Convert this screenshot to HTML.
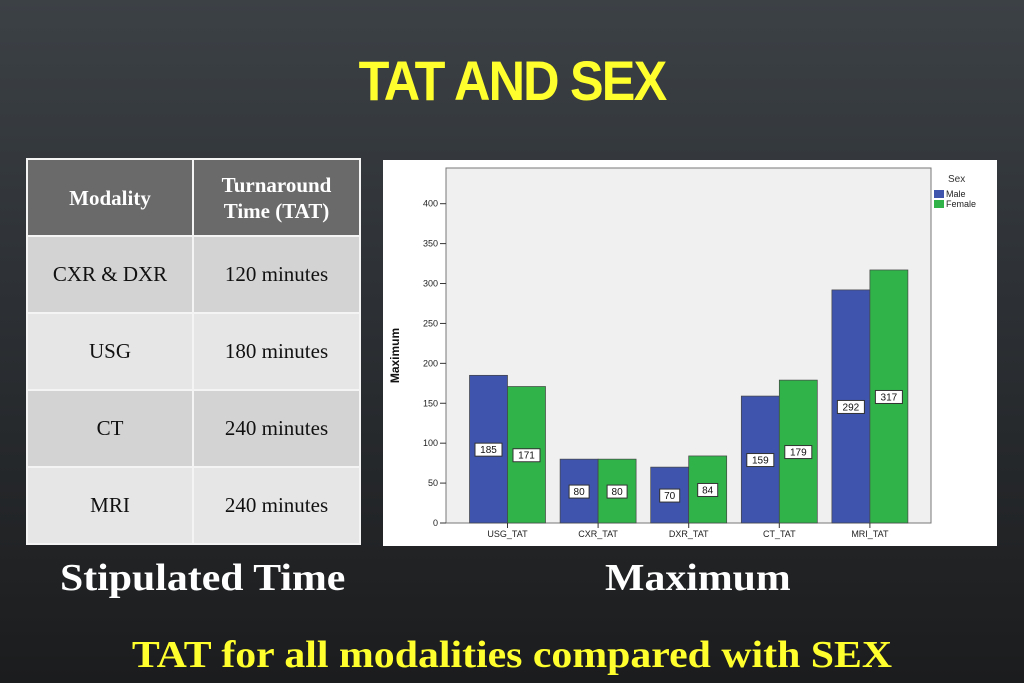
<!DOCTYPE html>
<html><head><meta charset="utf-8">
<style>
body{margin:0;width:1024px;height:683px;overflow:hidden;background:linear-gradient(#3c4146 0%,#2c3034 45%,#1b1c1d 100%);font-family:"Liberation Serif",serif;position:relative}
.abs{position:absolute}
#title{left:0;width:1024px;top:48px;text-align:center;color:#ffff2e;font-family:"Liberation Sans Narrow","Liberation Sans",sans-serif;font-weight:bold;font-size:56px;letter-spacing:-2px;transform:scaleX(0.9);}
table{position:absolute;left:26px;top:158px;border-collapse:collapse;width:335px}
td,th{border:2px solid #f4f4f4;text-align:center;font-size:21px;color:#111;height:75px;padding:0}
th{background:#6a6a6a;color:#fff;font-weight:bold;font-size:21px;line-height:26px;height:75px}
tr.a td{background:#d3d3d3}tr.b td{background:#e6e6e6}
.cap{color:#fff;font-weight:bold;font-size:38px;top:556px;transform-origin:left center;transform:scaleX(1.1)}
#bottom{left:0;width:1024px;text-align:center;top:633px;color:#ffff2e;font-weight:bold;font-size:38px;transform:scaleX(1.1)}
</style></head><body>
<div id="title" class="abs">TAT AND SEX</div>
<table>
<tr><th style="width:164px">Modality</th><th>Turnaround<br>Time (TAT)</th></tr>
<tr class="a"><td>CXR &amp; DXR</td><td>120 minutes</td></tr>
<tr class="b"><td>USG</td><td>180 minutes</td></tr>
<tr class="a"><td>CT</td><td>240 minutes</td></tr>
<tr class="b"><td>MRI</td><td>240 minutes</td></tr>
</table>
<svg id="chart" class="abs" style="left:383px;top:160px" width="614" height="386"></svg>
<div class="abs cap" style="left:60px">Stipulated Time</div>
<div class="abs cap" style="left:605px">Maximum</div>
<div id="bottom" class="abs">TAT for all modalities compared with SEX</div>
<script>
const categories=["USG_TAT","CXR_TAT","DXR_TAT","CT_TAT","MRI_TAT"];
const maleValues=[185,80,70,159,292];
const femaleValues=[171,80,84,179,317];
const yTicks=[0,50,100,150,200,250,300,350,400];
const svg=document.getElementById('chart');const NS='http://www.w3.org/2000/svg';
function mk(t,a,p){const e=document.createElementNS(NS,t);for(const k in a)e.setAttribute(k,a[k]);(p||svg).appendChild(e);return e;}
svg.style.background='#fff';
const L=63,R=548,T=8,B=363;
const y=v=>B-v*(B-43.7)/400;
const gx=i=>124.5+90.6*i;
const bw=38;
let bg=mk('rect',{x:L,y:T,width:R-L,height:B-T,fill:'#f0f0f0',stroke:'#777','stroke-width':1});

yTicks.forEach(v=>{mk('line',{x1:L-6,x2:L,y1:y(v),y2:y(v),stroke:'#333'});
let t=mk('text',{x:L-8,y:y(v)+3,'text-anchor':'end','font-size':9,'font-family':'Liberation Sans',fill:'#222'});t.textContent=v;
});
let yt=mk('text',{transform:`translate(16,${(T+B)/2+10}) rotate(-90)`,'text-anchor':'middle','font-size':12,'font-weight':'bold','font-family':'Liberation Sans Narrow, Liberation Sans',fill:'#111'});yt.textContent='Maximum';

function label(cx,v){const w=String(v).length*7+6;const g=mk('g',{});
mk('rect',{x:cx-w/2,y:y(v/2)-6,width:w,height:13,fill:'#fff',stroke:'#333','stroke-width':1},g);
const t=mk('text',{x:cx,y:y(v/2)+4,'text-anchor':'middle','font-size':10,'font-family':'Liberation Sans',fill:'#111'},g);t.textContent=v;
}
categories.forEach((c,i)=>{const cx=gx(i);
let m=mk('rect',{x:cx-bw,y:y(maleValues[i]),width:bw,height:B-y(maleValues[i]),fill:'#3f55ad',stroke:'#444','stroke-width':0.7});

let f=mk('rect',{x:cx,y:y(femaleValues[i]),width:bw,height:B-y(femaleValues[i]),fill:'#30b44a',stroke:'#444','stroke-width':0.7});

label(cx-bw/2,maleValues[i]);label(cx+bw/2,femaleValues[i]);
mk('line',{x1:cx,x2:cx,y1:B,y2:B+5,stroke:'#333'});
let t=mk('text',{x:cx,y:B+14,'text-anchor':'middle','font-size':9,'font-family':'Liberation Sans',fill:'#222'});t.textContent=c;
});
let lg=mk('g',{});
let st=mk('text',{x:565,y:22,'font-size':10,'font-family':'Liberation Sans',fill:'#333'},lg);st.textContent='Sex';
mk('rect',{x:551,y:30,width:10,height:8,fill:'#3f55ad'},lg);
let t1=mk('text',{x:563,y:37,'font-size':9,'font-family':'Liberation Sans',fill:'#222'},lg);t1.textContent='Male';
mk('rect',{x:551,y:40,width:10,height:8,fill:'#30b44a'},lg);
let t2=mk('text',{x:563,y:47,'font-size':9,'font-family':'Liberation Sans',fill:'#222'},lg);t2.textContent='Female';
</script>
</body></html>
